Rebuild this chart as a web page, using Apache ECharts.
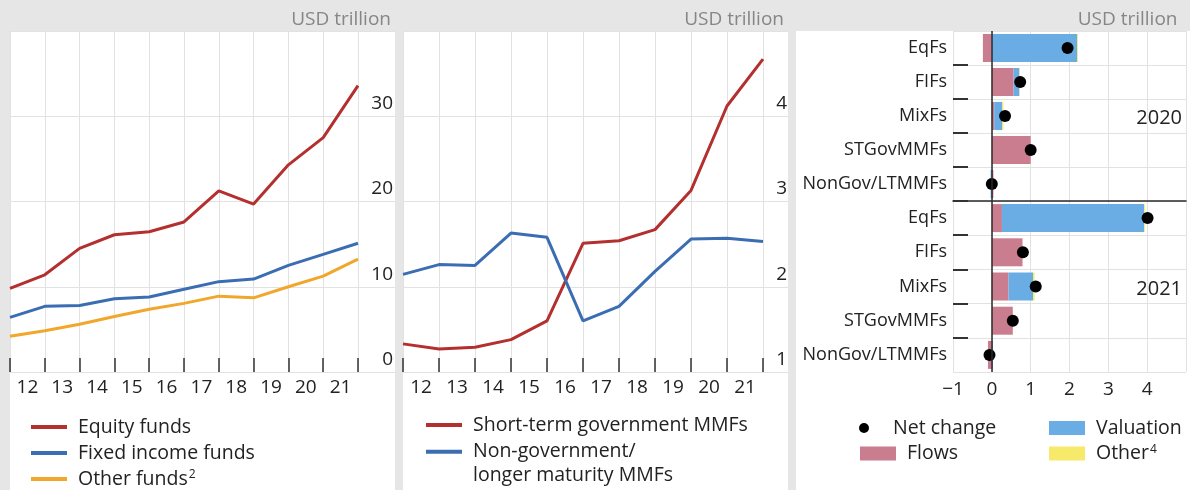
<!DOCTYPE html>
<html>
<head>
<meta charset="utf-8">
<script src="https://cdn.jsdelivr.net/npm/echarts@6/dist/echarts.min.js"></script>
<style>
  html, body { margin: 0; padding: 0; background: #e6e6e6; }
  #chart { width: 1190px; height: 490px; }
</style>
</head>
<body>
<div id="chart"></div>
<script>
// ---- Data ----------------------------------------------------------------
// Year labels (centred between year-end ticks)
const yearLabels = ['12', '13', '14', '15', '16', '17', '18', '19', '20', '21'];

// Assets under management at year-end, end-2011 ... end-2021 (USD trillion)
const equityFunds      = [9.8, 11.4, 14.5, 16.1, 16.45, 17.6, 21.25, 19.7, 24.3, 27.5, 33.6];
const fixedIncomeFunds = [6.4, 7.7, 7.8, 8.6, 8.8, 9.7, 10.6, 10.9, 12.5, 13.8, 15.1];
const otherFunds       = [4.2, 4.85, 5.6, 6.5, 7.35, 8.05, 8.9, 8.7, 10.0, 11.25, 13.25];

// Money market funds, end-2011 ... end-2021 (USD trillion)
const stGovMMFs  = [1.33, 1.27, 1.29, 1.38, 1.6, 2.51, 2.54, 2.67, 3.13, 4.12, 4.67];
const nonGovMMFs = [2.145, 2.26, 2.25, 2.63, 2.58, 1.6, 1.77, 2.18, 2.56, 2.57, 2.53];

// Decomposition of the annual change in assets (USD trillion)
const fundTypes = ['EqFs', 'FIFs', 'MixFs', 'STGovMMFs', 'NonGov/LTMMFs'];
const flows2020     = [-0.23, 0.56, 0.06, 1.0, 0.04];
const valuation2020 = [2.2, 0.15, 0.21, 0, -0.03];
const other2020     = [0.02, 0.01, 0.03, 0, 0];
const netChange2020 = [1.95, 0.73, 0.34, 1.0, 0.0];

const flows2021     = [0.26, 0.79, 0.43, 0.54, -0.1];
const valuation2021 = [3.66, 0, 0.63, 0, 0.03];
const other2021     = [0.02, 0, 0.04, 0, 0];
const netChange2021 = [4.01, 0.8, 1.13, 0.54, -0.06];

const leftTicks  = { min: 0, max: 40, interval: 10 };
const midTicks   = { min: 1, max: 5, interval: 1 };
const rightTicks = { min: -1, max: 5, interval: 1 };

// ---- Styling ---------------------------------------------------------------
const FONT = '"Open Sans", "Noto Sans", sans-serif';
const TXT = '#222222';
const GRID_LINE = '#e2e2e2';
const RED = '#b3302f';
const BLUE = '#3b6db3';
const ORANGE = '#f0a72c';
const FLOWS = '#c97d8f';
const VALUATION = '#69ade4';
const OTHER = '#f7ea6a';

const chart = echarts.init(document.getElementById('chart'), null, { renderer: 'canvas' });

const splitLine = { show: true, lineStyle: { color: GRID_LINE, width: 1 } };

function yearAxis(gridIndex) {
  return {
    gridIndex, type: 'category', data: yearLabels, boundaryGap: true,
    axisLine: { show: false },
    axisTick: { show: true, inside: true, length: 14, interval: 0, lineStyle: { color: '#333', width: 1.5 } },
    axisLabel: { interval: 0, fontSize: 19, color: TXT, fontFamily: FONT, margin: 6 },
    splitLine: { show: true, interval: 0, lineStyle: { color: GRID_LINE, width: 1 } }
  };
}
function hiddenX(gridIndex, range) {
  return Object.assign({ gridIndex, type: 'value', show: false }, range || {});
}
function valueAxis(gridIndex, ticks, margin) {
  return {
    gridIndex, type: 'value', position: 'right', min: ticks.min, max: ticks.max, interval: ticks.interval,
    axisLine: { show: false }, axisTick: { show: false },
    axisLabel: {
      showMaxLabel: false, align: 'right', verticalAlign: 'bottom', margin,
      padding: [0, 0, 3, 0], fontSize: 19, color: TXT, fontFamily: FONT
    },
    splitLine
  };
}
function extensionAxis(gridIndex, ticks) {
  return {
    gridIndex, type: 'value', min: ticks.min, max: ticks.max, interval: ticks.interval,
    axisLine: { show: false }, axisTick: { show: false }, axisLabel: { show: false }, splitLine
  };
}
function fundAxis(gridIndex, cats, inverse) {
  return {
    gridIndex, type: 'category', data: cats, inverse,
    axisLine: { show: false, onZero: false },
    axisTick: { show: true, inside: true, length: 15, interval: (i) => i > 0, lineStyle: { color: '#333', width: 2 } },
    axisLabel: { interval: 0, margin: 6, fontSize: 18, color: TXT, fontFamily: FONT },
    splitLine: { show: true, interval: 0, lineStyle: { color: GRID_LINE, width: 1 } }
  };
}
function line(name, values, color, xAxisIndex, yAxisIndex) {
  return {
    type: 'line', name, xAxisIndex, yAxisIndex, symbol: 'none', silent: true,
    data: values.map((v, i) => [i, v]),
    lineStyle: { width: 3, color }, itemStyle: { color }
  };
}
function bar(name, values, color, axisIndex, stack) {
  return {
    type: 'bar', name, stack, xAxisIndex: axisIndex, yAxisIndex: axisIndex - 2,
    barWidth: 28, silent: true, itemStyle: { color },
    data: values.map((v, i) => [v, fundTypes[i]])
  };
}
function dots(values, axisIndex) {
  return {
    type: 'scatter', name: 'Net change', xAxisIndex: axisIndex, yAxisIndex: axisIndex - 2,
    symbol: 'circle', symbolSize: 12, silent: true, itemStyle: { color: '#000', opacity: 1 },
    data: values.map((v, i) => [v, fundTypes[i]]),
    markLine: {
      silent: true, symbol: 'none', label: { show: false },
      lineStyle: { color: '#2a2a2a', width: 1.5, type: 'solid', opacity: 1 },
      data: [{ xAxis: 0 }]
    }
  };
}

const legendText = {
  fontSize: 19.5, fontFamily: FONT, color: TXT, lineHeight: 26, padding: [0, 0, 0, 6],
  rich: { sup: { fontSize: 12, fontFamily: FONT, color: TXT, padding: [0, 0, 8, 1] } }
};
function legend(extra) {
  return Object.assign({
    orient: 'vertical', padding: 0, itemGap: 0, itemWidth: 36, itemHeight: 14,
    icon: 'rect', selectedMode: false, itemStyle: { borderWidth: 0 }, textStyle: legendText
  }, extra);
}
function unitTitle(right) {
  return {
    text: 'USD trillion', right, top: 9, padding: 0,
    textStyle: { fontSize: 19, fontWeight: 'normal', color: '#868686', fontFamily: FONT, lineHeight: 22 }
  };
}

const option = {
  animation: false,
  backgroundColor: '#e6e6e6',
  textStyle: { fontFamily: FONT },
  title: [unitTitle(799), unitTitle(406), unitTitle(12.5)],
  graphic: [
    { type: 'rect', z: -10, silent: true, shape: { x: 10, y: 31, width: 385, height: 459 }, style: { fill: '#fff' } },
    { type: 'rect', z: -10, silent: true, shape: { x: 403, y: 31, width: 385, height: 459 }, style: { fill: '#fff' } },
    { type: 'rect', z: -10, silent: true, shape: { x: 796, y: 31, width: 394, height: 459 }, style: { fill: '#fff' } },
    { type: 'text', right: 8, top: 108, z: 10, silent: true, style: { text: '2020', fontSize: 20, fontFamily: FONT, fill: TXT } },
    { type: 'text', right: 8, top: 279, z: 10, silent: true, style: { text: '2021', fontSize: 20, fontFamily: FONT, fill: TXT } }
  ],
  grid: [
    { left: 10, top: 31, width: 348, height: 341 },
    { left: 358, top: 31, width: 37, height: 341 },
    { left: 403, top: 31, width: 360, height: 341 },
    { left: 763, top: 31, width: 25, height: 341 },
    { left: 953, top: 31, width: 233, height: 170 },
    { left: 953, top: 201, width: 233, height: 171 }
  ],
  xAxis: [
    yearAxis(0),
    hiddenX(0, { min: 0, max: 10 }),
    hiddenX(1),
    yearAxis(2),
    hiddenX(2, { min: 0, max: 10 }),
    hiddenX(3),
    {
      gridIndex: 4, type: 'value', min: rightTicks.min, max: rightTicks.max, interval: rightTicks.interval,
      axisLine: { show: true, onZero: false, lineStyle: { color: '#2a2a2a', width: 1.5 } },
      axisTick: { show: false }, axisLabel: { show: false }, splitLine
    },
    {
      gridIndex: 5, type: 'value', min: rightTicks.min, max: rightTicks.max, interval: rightTicks.interval,
      axisLine: { show: false, onZero: false }, axisTick: { show: false },
      axisLabel: {
        showMaxLabel: false, fontSize: 19, color: TXT, fontFamily: FONT, margin: 8,
        formatter: (v) => String(v).replace('-', '\u2212')
      },
      splitLine
    }
  ],
  yAxis: [
    valueAxis(0, leftTicks, 35),
    extensionAxis(1, leftTicks),
    valueAxis(2, midTicks, 24),
    extensionAxis(3, midTicks),
    fundAxis(4, fundTypes, true),
    fundAxis(5, fundTypes.slice().reverse(), false)
  ],
  legend: [
    legend({ left: 31, top: 414, itemHeight: 4, data: ['Equity funds'] }),
    legend({ left: 31, top: 440, itemHeight: 4, data: ['Fixed income funds'] }),
    legend({ left: 31, top: 466, itemHeight: 4, data: ['Other funds'], formatter: (n) => n + '{sup|2}' }),
    legend({ left: 426, top: 412, itemHeight: 4, data: ['Short-term government MMFs'] }),
    legend({
      left: 426, top: 416.5, itemHeight: 4, data: ['Non-government/\nlonger maturity MMFs'],
      textStyle: Object.assign({}, legendText, { lineHeight: 23.5, padding: [23.5, 0, 0, 6] })
    }),
    legend({ left: 859, top: 415, itemHeight: 10, icon: 'circle', data: ['Net change'] }),
    legend({ left: 860, top: 440.5, data: ['Flows'] }),
    legend({ left: 1049, top: 415, data: ['Valuation'] }),
    legend({ left: 1049, top: 440.5, data: ['Other'], formatter: (n) => n + '{sup|4}' })
  ],
  series: [
    line('Equity funds', equityFunds, RED, 1, 0),
    line('Fixed income funds', fixedIncomeFunds, BLUE, 1, 0),
    line('Other funds', otherFunds, ORANGE, 1, 0),
    line('Short-term government MMFs', stGovMMFs, RED, 4, 2),
    line('Non-government/\nlonger maturity MMFs', nonGovMMFs, BLUE, 4, 2),

    bar('Flows', flows2020, FLOWS, 6, 'y2020'),
    bar('Valuation', valuation2020, VALUATION, 6, 'y2020'),
    bar('Other', other2020, OTHER, 6, 'y2020'),
    dots(netChange2020, 6),

    bar('Flows', flows2021, FLOWS, 7, 'y2021'),
    bar('Valuation', valuation2021, VALUATION, 7, 'y2021'),
    bar('Other', other2021, OTHER, 7, 'y2021'),
    dots(netChange2021, 7)
  ]
};

chart.setOption(option);
</script>
</body>
</html>
